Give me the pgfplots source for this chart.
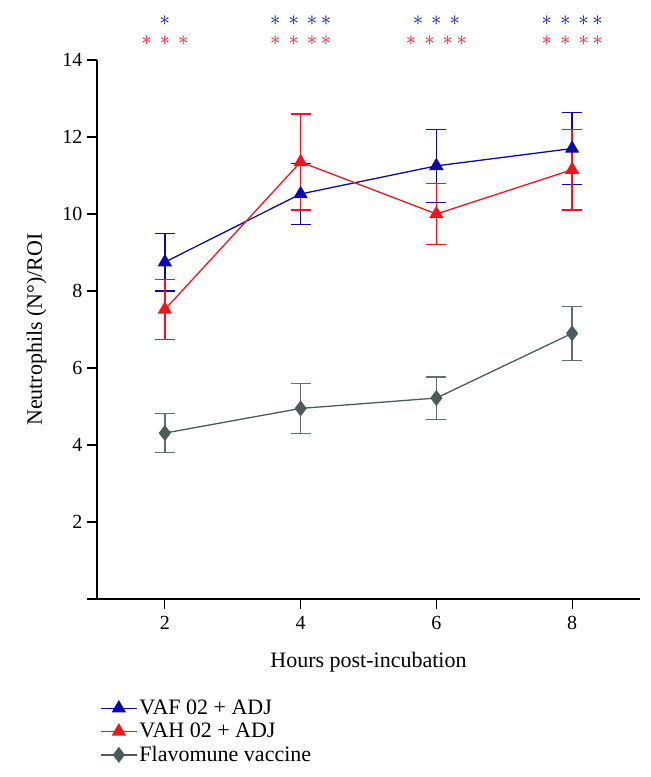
\documentclass[border=0pt]{standalone}
\usepackage{pgfplots}
\pgfplotsset{compat=1.18}
\usepackage{fontspec}
\setmainfont{Liberation Serif}
\definecolor{cblue}{RGB}{10,10,170}
\definecolor{cred}{RGB}{240,20,30}
\definecolor{cgray}{RGB}{75,90,90}
\definecolor{cgrayl}{RGB}{95,110,110}
\begin{document}
\begin{tikzpicture}
\useasboundingbox (0,0) rectangle (651pt,777pt);
\begin{axis}[
  at={(97pt,178pt)}, anchor=south west,
  scale only axis, width=543pt, height=539pt,
  xmin=1, xmax=9, ymin=0, ymax=14,
  axis x line=bottom, axis y line=left,
  axis line style={-, line width=1.1pt, black},
  xtick={2,4,6,8}, ytick={2,4,6,8,10,12,14},
  tick align=outside, major tick length=10pt,
  tick style={line width=1.1pt, black},
  /pgf/number format/assume math mode=true,
  tick label style={font=\fontsize{20}{22}\selectfont},
  xticklabel style={yshift=-4pt},
  yticklabel style={xshift=-1pt},
  label style={font=\fontsize{22}{26}\selectfont},
  xlabel={Hours post-incubation},
  ylabel={Neutrophils (N°)/ROI},
  xlabel style={yshift=-15pt},
  ylabel style={yshift=9pt},
  clip=false,
  legend style={at={(0.0,-0.18)}, anchor=north west, draw=none, fill=none,
    font=\fontsize{22}{24}\selectfont, row sep=3pt,
    /tikz/every even column/.append style={column sep=10pt}},
  legend cell align=left,
  legend image code/.code={\draw[mark repeat=2,mark phase=2] plot coordinates {(0pt,0pt) (18pt,0pt) (36pt,0pt)};},
  error bars/error bar style={line width=1.3pt},
  error bars/error mark options={rotate=90, mark size=10pt, line width=1.3pt},
]
\draw[line width=1.1pt] (axis cs:0.86,0) -- (axis cs:1,0);
\addplot[cblue, line width=1.3pt, mark=triangle*, mark size=7pt,
  error bars/.cd, y dir=both, y explicit]
  coordinates {(2,8.75) +- (0,0.75) (4,10.52) +- (0,0.8) (6,11.25) +- (0,0.95) (8,11.7) +- (0,0.93)};
\addlegendentry{VAF 02 + ADJ}
\addplot[cred, line width=1.3pt, mark=triangle*, mark size=7pt,
  error bars/.cd, y dir=both, y explicit]
  coordinates {(2,7.52) +- (0,0.78) (4,11.35) +- (0,1.25) (6,10.0) +- (0,0.8) (8,11.15) +- (0,1.05)};
\addlegendentry{VAH 02 + ADJ}
\addplot[cgray, line width=1.3pt, mark=diamond*, mark size=7pt,
  error bars/.cd, y dir=both, y explicit, error bar style={cgrayl, line width=1.3pt}, error mark options={cgrayl, rotate=90, mark size=10pt, line width=1.3pt}]
  coordinates {(2,4.31) +- (0,0.5) (4,4.95) +- (0,0.65) (6,5.22) +- (0,0.55) (8,6.9) +- (0,0.7)};
\addlegendentry{Flavomune vaccine}
\foreach \x/\b/\r in {2/{$\ast$}/{$\ast\,\ast\,\ast$}, 4/{$\ast\,\ast\,\ast\,\ast$}/{$\ast\,\ast\,\ast\,\ast$}, 6/{$\ast\,\ast\,\ast$}/{$\ast\,\ast\,\ast\,\ast$}, 8/{$\ast\,\ast\,\ast\,\ast$}/{$\ast\,\ast\,\ast\,\ast$}}{
  \edef\tmp{\noexpand\node[cblue, inner sep=0pt, font=\noexpand\fontsize{21}{24}\noexpand\selectfont] at (axis cs:\x,15.03) {\unexpanded\expandafter{\b}};
  \noexpand\node[cred, inner sep=0pt, font=\noexpand\fontsize{21}{24}\noexpand\selectfont] at (axis cs:\x,14.5) {\unexpanded\expandafter{\r}};}
  \tmp
}
\end{axis}
\end{tikzpicture}
\end{document}
